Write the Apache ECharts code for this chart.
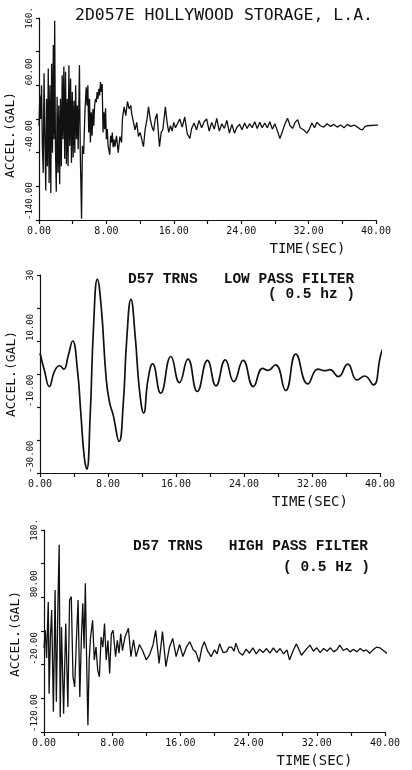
<!DOCTYPE html>
<html><head><meta charset="utf-8">
<script src="https://cdn.jsdelivr.net/npm/echarts@6/dist/echarts.min.js"></script>
<style>html,body{margin:0;padding:0;background:#fff}#c{width:412px;height:770px}</style>
</head><body><div id="c"></div>
<script>
// ---------- DATA ----------
const titleTop = '2D057E HOLLYWOOD STORAGE, L.A.';
const titleMid1 = 'D57 TRNS   LOW PASS FILTER';
const titleMid2 = '( 0.5 hz )';
const titleBot1 = 'D57 TRNS   HIGH PASS FILTER';
const titleBot2 = '( 0.5 Hz )';
const yName = 'ACCEL.(GAL)';
const xName = 'TIME(SEC)';

const xTickVals = [0,4,8,12,16,20,24,28,32,36,40];
const xLabelVals = [0,8,16,24,32,40];
const xLabelTexts = ['0.00','8.00','16.00','24.00','32.00','40.00'];

const topYTicks = [-140,-90,-40,10,60,110,160];
const topYLabelVals = [-140,-40,60];
const topYLabelTexts = ['-140.00','-40.00','60.00'];
const topYMaxText = '160.';

const midYTicks = [-30,-20,-10,0,10,20,30];
const midYLabelVals = [-30,-10,10];
const midYLabelTexts = ['-30.00','-10.00','10.00'];
const midYMaxText = '30';

const botYTicks = [-120,-70,-20,30,80,130,180];
const botYLabelVals = [-120,-20,80];
const botYLabelTexts = ['-120.00','-20.00','80.00'];
const botYMaxText = '180.';

// [time (s), acceleration (gal)]
const topPoints = [[0,0],[0.1,45],[0.2,10],[0.3,60],[0.4,-30],[0.5,-70],[0.6,78],[0.7,-20],[0.8,-96],[0.9,40],[1.0,-60],[1.1,85],[1.2,-85],[1.3,60],[1.4,-100],[1.5,92],[1.6,-40],[1.7,120],[1.78,-20],[1.86,156],[1.95,-30],[2.05,-98],[2.15,43],[2.25,-70],[2.35,30],[2.45,-87],[2.55,40],[2.65,-60],[2.75,75],[2.85,-20],[2.95,88],[3.05,-49],[3.15,80],[3.25,-57],[3.35,40],[3.45,-60],[3.55,90],[3.65,-30],[3.75,70],[3.85,-55],[3.95,50],[4.05,-47],[4.15,37],[4.25,-40],[4.35,60],[4.45,-20],[4.55,30],[4.65,-35],[4.8,90],[4.9,-40],[5.05,-138],[5.15,-30],[5.3,-42],[5.45,20],[5.6,57],[5.7,30],[5.8,60],[5.9,-10],[6.0,40],[6.1,-25],[6.2,20],[6.3,-15],[6.4,25],[6.5,0],[6.6,30],[6.7,40],[6.8,35],[6.9,50],[7.0,40],[7.1,55],[7.2,45],[7.3,65],[7.4,50],[7.5,62],[7.6,-10],[7.7,20],[7.8,-5],[7.9,26],[8.0,-20],[8.1,-5],[8.2,-30],[8.4,-43],[8.5,-15],[8.6,-25],[8.7,-10],[8.8,-32],[8.9,-20],[9.0,-31],[9.2,-15],[9.4,-40],[9.6,-16],[9.8,-25],[9.9,10],[10.1,28],[10.3,15],[10.5,36],[10.7,25],[10.9,30],[11.0,18],[11.2,20],[11.4,-6],[11.6,5],[11.8,-16],[12.0,-10],[12.4,-31],[12.6,-5],[12.8,8],[13.0,28],[13.2,10],[13.4,-1],[13.6,-8],[13.8,10],[14.0,18],[14.3,-31],[14.5,-10],[14.7,-6],[15.0,28],[15.2,5],[15.4,-10],[15.6,0],[15.8,-8],[16.0,5],[16.2,-3],[16.4,-1],[16.7,10],[17.0,-2],[17.3,13],[17.6,-12],[17.9,-19],[18.1,-5],[18.4,4],[18.7,-6],[19.0,8],[19.3,-3],[19.6,6],[19.9,10],[20.2,-8],[20.5,5],[20.8,-5],[21.1,11],[21.4,-8],[21.7,3],[22.0,-4],[22.3,8],[22.6,-11],[22.9,2],[23.2,-11],[23.5,-2],[23.8,2],[24.1,-6],[24.4,4],[24.7,-4],[25.0,3],[25.3,-3],[25.6,6],[25.9,-4],[26.2,5],[26.5,-3],[26.8,4],[27.1,-3],[27.4,6],[27.7,-5],[28.0,3],[28.3,-8],[28.6,-19],[28.9,-8],[29.2,3],[29.5,11],[29.8,0],[30.1,-4],[30.4,5],[30.7,9],[31.0,-3],[31.4,-6],[31.8,-11],[32.1,-5],[32.4,4],[32.7,-3],[33.0,5],[33.4,0],[33.8,-2],[34.2,3],[34.6,-1],[35.0,2],[35.4,-2],[35.8,1],[36.2,-3],[36.6,2],[37.0,-1],[37.4,1],[37.8,-2],[38.1,-5],[38.4,-6],[38.7,-1],[39.0,0],[40.0,1],[40.8,1]];

const midPoints = [[0,6.3],[0.5,1.3],[1.1,-3.8],[1.7,0.8],[2.3,2.5],[2.8,1.5],[3.3,5.3],[3.84,10],[4.4,1.3],[4.8,-11.8],[5.2,-25],[5.5,-28.8],[5.9,-12.8],[6.3,14.4],[6.75,28.7],[7.2,20.4],[7.8,-1.8],[8.2,-8.8],[8.6,-12.3],[9.3,-20.4],[9.8,-8.8],[10.2,10.3],[10.7,22.6],[11.2,11.4],[11.7,-4.8],[12.2,-11.8],[12.7,-1.8],[13.25,3.1],[14.2,-5.8],[15.4,5.3],[16.4,-2.6],[17.4,4.5],[18.5,-5.3],[19.7,4.1],[20.7,-3.6],[21.8,4.3],[22.8,-2.3],[23.9,4.1],[25.1,-3.8],[26.2,1.7],[26.8,1.1],[27.7,2.8],[28.9,-5],[30.1,6],[31.5,-3],[32.7,1.5],[33.5,1],[34.1,1.3],[35.1,-0.8],[36.2,3],[37.3,-1.8],[38.2,-0.6],[39.2,-3.3],[40.2,6.8],[40.8,8.8]];

const botPoints = [[0,5],[0.15,31],[0.3,-10],[0.5,73],[0.6,-63],[0.75,20],[0.9,61],[1.1,-90],[1.3,91],[1.45,-75],[1.65,81],[1.78,158],[1.9,-98],[2.05,36],[2.3,-93],[2.55,41],[2.8,-83],[3.0,76],[3.2,81],[3.4,-38],[3.6,-53],[3.8,16],[4.0,76],[4.2,-68],[4.4,26],[4.55,71],[4.7,4],[4.85,101],[5.0,-13],[5.15,-110],[5.3,-13],[5.45,19],[5.7,46],[5.9,-13],[6.1,6],[6.3,-28],[6.5,-38],[6.7,21],[6.9,6],[7.1,41],[7.3,-13],[7.5,16],[7.7,-33],[7.9,26],[8.1,31],[8.4,-8],[8.6,16],[8.8,-3],[9.0,26],[9.2,1],[9.5,21],[9.9,34],[10.2,-8],[10.5,17],[10.8,-8],[11.2,10],[11.6,0],[12.0,-13],[12.4,-5],[12.8,10],[13.1,31],[13.5,-18],[13.9,29],[14.3,-23],[14.7,5],[15.1,19],[15.5,-8],[15.9,10],[16.3,-8],[16.7,6],[17.1,14],[17.5,2],[17.8,-1],[18.2,-16],[18.5,4],[18.8,14],[19.2,0],[19.6,-8],[20.0,2],[20.3,-4],[20.6,11],[21.0,-2],[21.4,-1],[21.7,6],[22.0,6],[22.3,0],[22.5,12],[22.9,-2],[23.3,-6],[23.7,3],[24.1,-3],[24.5,5],[24.9,-4],[25.3,3],[25.7,-2],[26.1,4],[26.5,-3],[26.9,5],[27.3,-2],[27.7,4],[28.1,-4],[28.5,2],[28.8,-13],[29.2,0],[29.6,11],[30.2,-6],[30.7,2],[31.2,9],[31.6,0],[32.0,5],[32.4,-2],[32.8,4],[33.2,0],[33.6,5],[34.0,-1],[34.4,3],[34.7,9],[35.1,1],[35.5,4],[35.9,-1],[36.3,3],[36.7,-1],[37.1,4],[37.5,0],[37.8,2],[38.2,-3],[38.6,2],[39.0,6],[39.4,5],[39.8,1],[40.2,-3],[40.6,-6]];

// ---------- STYLE / LAYOUT ----------
const INK = '#111111';
const MONO = '"DejaVu Sans Mono", "Liberation Mono", monospace';
const TYPE = '"Liberation Mono", "Courier New", monospace';

const panels = [
  {grid:{left:39,top:18,width:337,height:202}, min:-140, max:160, ticks:topYTicks, lv:topYLabelVals, lt:topYLabelTexts, maxText:topYMaxText, data:topPoints, smooth:false, lw:1.3, namePad:[0,32,0,0]},
  {grid:{left:40,top:275,width:340,height:198}, min:-30, max:30, ticks:midYTicks, lv:midYLabelVals, lt:midYLabelTexts, maxText:midYMaxText, data:midPoints, smooth:0.5, lw:1.7, namePad:[0,0,0,0]},
  {grid:{left:44,top:530,width:341,height:202}, min:-120, max:180, ticks:botYTicks, lv:botYLabelVals, lt:botYLabelTexts, maxText:botYMaxText, data:botPoints, smooth:false, lw:1.3, namePad:[0,6,0,0]}
];

const grid = [], xAxis = [], yAxis = [], series = [];
panels.forEach((p, i) => {
  grid.push(Object.assign({outerBoundsMode:'none', containLabel:false}, p.grid));
  xAxis.push({
    type:'value', gridIndex:i, min:0, max:40,
    axisLine:{show:true, onZero:false, lineStyle:{color:INK, width:1.2}},
    axisTick:{show:true, inside:false, length:4, customValues:xTickVals, lineStyle:{color:INK, width:1.2}},
    axisLabel:{show:true, customValues:xLabelVals, margin:6, color:INK, fontFamily:MONO, fontSize:10,
      formatter:(v)=>{const k = xLabelVals.indexOf(v); return k>=0 ? xLabelTexts[k] : '';}},
    splitLine:{show:false},
    name:xName, nameLocation:'middle', nameGap:22,
    nameTextStyle:{color:INK, fontFamily:MONO, fontSize:14, padding:[0,0,0,200]}
  });
  yAxis.push({
    type:'value', gridIndex:i, position:'left', min:p.min, max:p.max,
    axisLine:{show:true, onZero:false, lineStyle:{color:INK, width:1.2}},
    axisTick:{show:true, inside:false, length:3, customValues:p.ticks, lineStyle:{color:INK, width:1.2}},
    axisLabel:{show:true, customValues:p.lv, rotate:90, align:'left', margin:5, color:INK, fontFamily:MONO, fontSize:9,
      formatter:(v)=>{const k = p.lv.indexOf(v); return k>=0 ? p.lt[k] : '';}},
    splitLine:{show:false},
    name:yName, nameLocation:'middle', nameGap:17,
    nameTextStyle:{color:INK, fontFamily:MONO, fontSize:13, padding:p.namePad}
  });
  yAxis.push({
    type:'value', gridIndex:i, position:'left', offset:0, min:p.min, max:p.max,
    axisLine:{show:false}, axisTick:{show:false}, splitLine:{show:false},
    axisLabel:{show:true, customValues:[p.max], rotate:90, align:'center', margin:5, color:INK, fontFamily:MONO, fontSize:9,
      formatter:()=>p.maxText}
  });
  series.push({
    type:'line', xAxisIndex:i, yAxisIndex:2*i, data:p.data, symbol:'none', showSymbol:false,
    smooth:p.smooth, clip:false, silent:true, animation:false,
    lineStyle:{color:INK, width:p.lw}
  });
});

const title = [
  {text:titleTop, left:75, top:7, padding:0, textStyle:{color:INK, fontFamily:MONO, fontSize:16.5, fontWeight:'normal'}},
  {text:titleMid1, left:128, top:272, padding:0, textStyle:{color:INK, fontFamily:TYPE, fontSize:14.5, fontWeight:'bold'}},
  {text:titleMid2, left:268, top:287, padding:0, textStyle:{color:INK, fontFamily:TYPE, fontSize:14.5, fontWeight:'bold'}},
  {text:titleBot1, left:133, top:539, padding:0, textStyle:{color:INK, fontFamily:TYPE, fontSize:14.5, fontWeight:'bold'}},
  {text:titleBot2, left:283, top:560, padding:0, textStyle:{color:INK, fontFamily:TYPE, fontSize:14.5, fontWeight:'bold'}}
];

const chart = echarts.init(document.getElementById('c'), null, {renderer:'canvas'});
chart.setOption({backgroundColor:'#ffffff', animation:false, title, grid, xAxis, yAxis, series});
</script>
</body></html>
